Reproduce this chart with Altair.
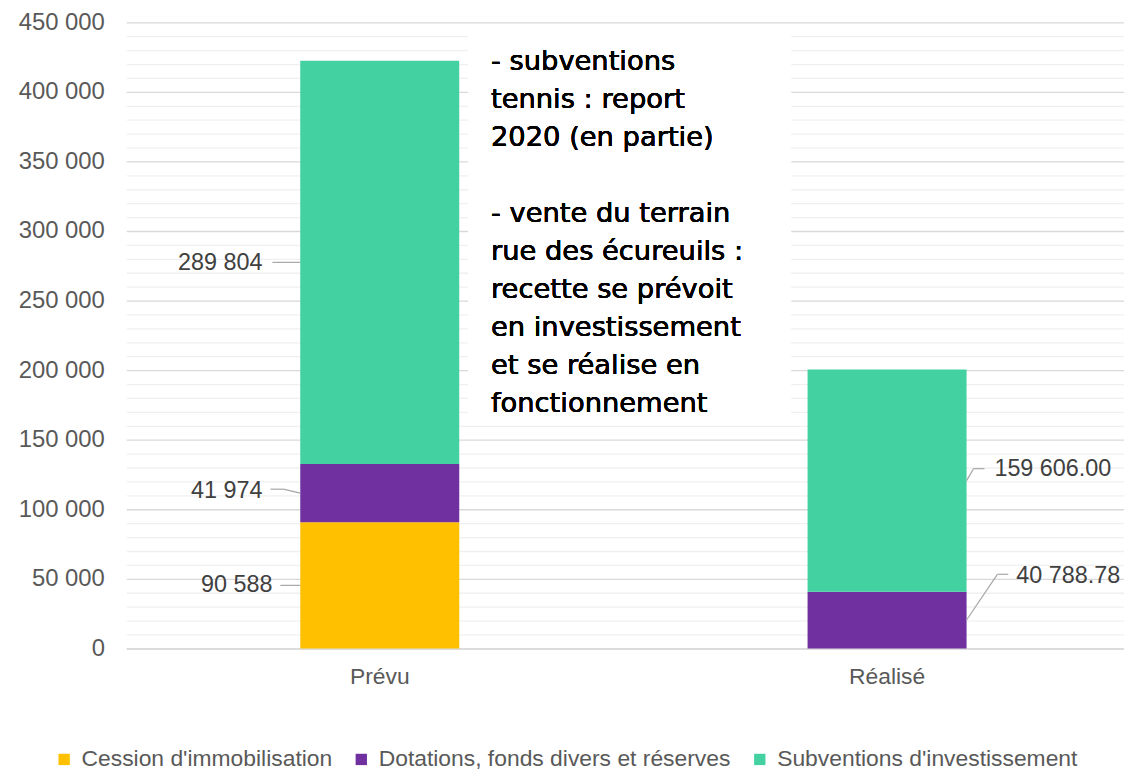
import altair as alt
import pandas as pd

# ---- data ----
categories = ["Prévu", "Réalisé"]
series = ["Cession d'immobilisation", "Dotations, fonds divers et réserves", "Subventions d'investissement"]
cession = [90588, 0]
dotations = [41974, 40788.78]
subventions = [289804, 159606.00]
colors = ["#FFC000", "#7030A0", "#43D1A2"]
note_part1 = ["- subventions", "tennis : report", "2020 (en partie)"]
note_part2 = ["- vente du terrain", "rue des écureuils :", "recette se prévoit",
              "en investissement", "et se réalise en", "fonctionnement"]

rows = []
for ci, cat in enumerate(categories):
    base = 0.0
    for si, (s, vals) in enumerate(zip(series, [cession, dotations, subventions])):
        v = vals[ci]
        if v > 0:
            lab = f"{v:,.0f}" if cat == "Prévu" else f"{v:,.2f}"
            rows.append({"cat": cat, "serie": s, "order": si, "value": v,
                         "mid": base + v / 2, "label": lab.replace(",", " ")})
        base += v
df = pd.DataFrame(rows)

# ---- styles ----
W, H = 1004, 630
FONT = "Liberation Sans"
GREY = "#595959"
LINE = "#A6A6A6"
FS = 23.5
LH = 38.2

xscale = alt.Scale(paddingInner=0.6863, paddingOuter=0.3265, align=0.525)
xaxis = alt.Axis(title=None, labelAngle=0, labelFont=FONT, labelFontSize=23,
                 labelColor=GREY, labelPadding=17, ticks=False,
                 domainColor="#D9D9D9", domainWidth=1.5)
yscale = alt.Scale(domain=[0, 450000], nice=False)
yaxis = alt.Axis(title=None, values=list(range(0, 450001, 10000)),
                 labelExpr="datum.value % 50000 === 0 ? replace(format(datum.value, ',d'), ',', ' ') : ''",
                 labelOverlap=False,
                 labelFont=FONT, labelFontSize=24, labelColor=GREY, labelPadding=22,
                 ticks=False, domain=False,
                 gridColor={"condition": {"test": "datum.value % 50000 === 0", "value": "#D9D9D9"},
                            "value": "#F0F0F0"},
                 gridWidth=1.3)

xenc = alt.X("cat:N", sort=categories, bandPosition=0.5, scale=xscale, axis=xaxis)

bars = alt.Chart(df).mark_bar(size=160).encode(
    x=xenc,
    y=alt.Y("value:Q", stack="zero", scale=yscale, axis=yaxis),
    color=alt.Color("serie:N", sort=series,
                    scale=alt.Scale(domain=series, range=colors),
                    legend=alt.Legend(title=None, orient="none", legendX=-74, legendY=730,
                                      direction="horizontal", symbolType="square", symbolSize=130,
                                      symbolStrokeWidth=0, labelFont=FONT, labelFontSize=23,
                                      labelColor=GREY, columnPadding=17, labelOffset=6,
                                      labelLimit=0)),
    order=alt.Order("order:Q"),
)

# label placement per segment: (cat, serie index, dx, dy, align, leader segments [(x0,x1,y0,y1)])
ann = [
    ("Prévu", 2, -118, 1, "right", [(-108, -80, 0, 0)]),
    ("Prévu", 1, -118, -2.5, "right", [(-110, -97, -4, -4), (-97, -80, -4, 0)]),
    ("Prévu", 0, -108, 0, "right", [(-100, -80, 0, 0)]),
    ("Réalisé", 2, 108, -12, "left", [(80, 87, 0, -12), (87, 98, -12, -12)]),
    ("Réalisé", 1, 130, -44, "left", [(80, 111, 0, -46), (111, 122, -46, -46)]),
]

layers = [bars]
yplain = alt.Y("mid:Q", scale=yscale, axis=yaxis)
for cat, si, dx, dy, align, segs in ann:
    sub = alt.Chart(df).transform_filter(
        (alt.datum.cat == cat) & (alt.datum.serie == series[si]))
    layers.append(sub.mark_text(dx=dx, dy=dy, align=align, baseline="middle", font=FONT,
                                fontSize=FS, color="#404040").encode(
        x=xenc, y=yplain, text="label:N"))
    for x0, x1, y0, y1 in segs:
        layers.append(sub.mark_rule(color=LINE, strokeWidth=1.2, xOffset=x0, x2Offset=x1,
                                    yOffset=y0, y2Offset=y1).encode(
            x=xenc, x2=alt.X2("cat", bandPosition=0.5),
            y=yplain, y2="mid:Q"))

box = alt.Chart(df).mark_rect(color="white").encode(
    x=alt.value(344), x2=alt.value(669), y=alt.value(9), y2=alt.value(404))
note1 = alt.Chart(df).mark_text(align="left", baseline="alphabetic", font="DejaVu Sans",
                                fontSize=27.5, lineHeight=LH, color="black").encode(
    x=alt.value(367), y=alt.value(48), text=alt.value(note_part1))
note2 = alt.Chart(df).mark_text(align="left", baseline="alphabetic", font="DejaVu Sans",
                                fontSize=27.5, lineHeight=LH, color="black").encode(
    x=alt.value(367), y=alt.value(48 + 4 * LH), text=alt.value(note_part2))
layers += [box, note1, note2]

chart = alt.layer(*layers).properties(
    width=W, height=H, background="white",
    padding={"top": 0, "left": 10, "right": 0, "bottom": 0}
).configure_view(stroke=None)

chart.save("out.html", embed_options={"renderer": "svg", "actions": False})
